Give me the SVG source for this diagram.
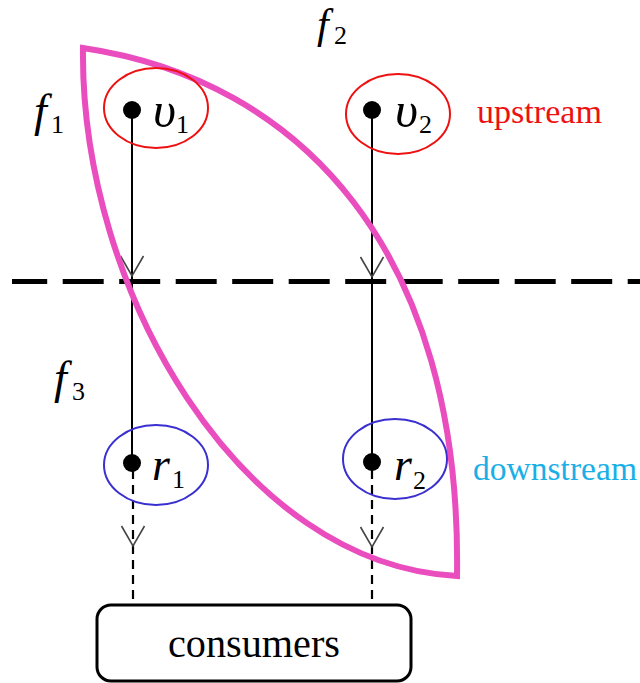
<svg xmlns="http://www.w3.org/2000/svg" width="640" height="683" viewBox="0 0 640 683">
<defs>
<marker id="vee" markerWidth="26" markerHeight="26" refX="13" refY="21" orient="0" markerUnits="userSpaceOnUse">
<path d="M1.5,1 L13,21 L24.5,1" fill="none" stroke="#444" stroke-width="1.6"/>
</marker>
</defs>
<style>
.math{font-family:"Liberation Serif",serif;font-style:italic;fill:#000}
.sub{font-family:"Liberation Serif",serif;fill:#000;font-size:26px}
.up{fill:none;stroke:#EE1111;stroke-width:2}
.down{fill:none;stroke:#3A2FCF;stroke-width:2}
.solid{stroke:#000;stroke-width:2;fill:none}
.dash{stroke:#000;stroke-width:2.2;fill:none;stroke-dasharray:9 6}
.dot{fill:#000}
</style>
<rect width="640" height="683" fill="#fff"/>
<g id="boundary">
<line x1="12" y1="281.5" x2="640" y2="281.5" stroke="#000" stroke-width="5" stroke-dasharray="41 15.5" stroke-dashoffset="5.8"/>
</g>
<g id="connectors">
<line class="solid" x1="132" y1="110" x2="132" y2="463"/>
<line x1="132" y1="200" x2="132" y2="276" stroke="none" marker-end="url(#vee)"/>
<line class="solid" x1="372" y1="110" x2="372" y2="462"/>
<line x1="372" y1="200" x2="372" y2="277" stroke="none" marker-end="url(#vee)"/>
<line class="dash" x1="133" y1="470" x2="133" y2="605"/>
<line x1="133" y1="500" x2="133" y2="546" stroke="none" marker-end="url(#vee)"/>
<line class="dash" x1="372" y1="470" x2="372" y2="605"/>
<line x1="372" y1="500" x2="372" y2="547" stroke="none" marker-end="url(#vee)"/>
</g>
<g id="lens">
<path d="M83,48 C300,80 462,250 457,576 C240,565 80,290 83,48 Z" fill="none" stroke="#E94DBE" stroke-width="6" stroke-linejoin="miter"/>
</g>
<g id="node-v1">
<ellipse class="up" cx="156" cy="108" rx="52" ry="40"/>
<circle class="dot" cx="132" cy="110" r="9"/>
<text class="math" x="153" y="127" font-size="50">υ</text>
<text class="sub" x="176" y="133">1</text>
</g>
<g id="node-v2">
<ellipse class="up" cx="398" cy="114" rx="52" ry="40"/>
<circle class="dot" cx="372" cy="110" r="9"/>
<text class="math" x="395" y="127" font-size="50">υ</text>
<text class="sub" x="419" y="133">2</text>
</g>
<g id="node-r1">
<ellipse class="down" cx="156" cy="465" rx="52" ry="40"/>
<circle class="dot" cx="132" cy="463" r="9"/>
<text class="math" x="152" y="480" font-size="46">r</text>
<text class="sub" x="172" y="488">1</text>
</g>
<g id="node-r2">
<ellipse class="down" cx="395" cy="459" rx="52" ry="40"/>
<circle class="dot" cx="372" cy="462" r="9"/>
<text class="math" x="394" y="480" font-size="46">r</text>
<text class="sub" x="413" y="489">2</text>
</g>
<g id="labels">
<text class="math" x="34" y="126" font-size="46">f</text>
<text class="sub" x="51" y="133">1</text>
<text class="math" x="317" y="38" font-size="42">f</text>
<text class="sub" x="334" y="44">2</text>
<text class="math" x="54" y="393" font-size="46">f</text>
<text class="sub" x="72" y="400">3</text>
<text x="477" y="123" font-family="Liberation Serif,serif" font-size="33" fill="#EE1111" textLength="125" lengthAdjust="spacingAndGlyphs">upstream</text>
<text x="473" y="480" font-family="Liberation Serif,serif" font-size="33" fill="#1AAFE6" textLength="164" lengthAdjust="spacingAndGlyphs">downstream</text>
</g>
<g id="node-consumers">
<rect x="97" y="605" width="314" height="76" rx="14" fill="#fff" stroke="#000" stroke-width="3"/>
<text x="254" y="657" text-anchor="middle" font-family="Liberation Serif,serif" font-size="39" fill="#000" textLength="172" lengthAdjust="spacingAndGlyphs">consumers</text>
</g>
</svg>
